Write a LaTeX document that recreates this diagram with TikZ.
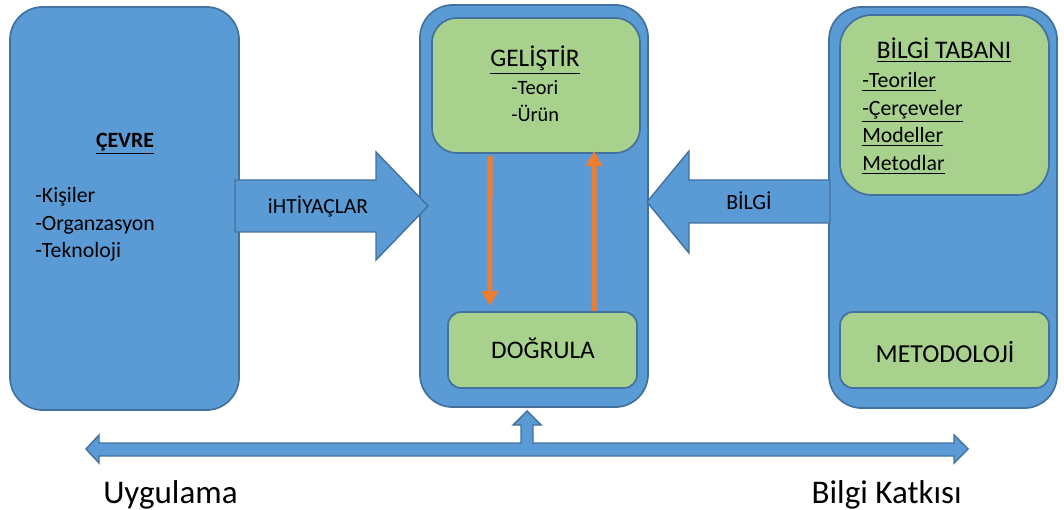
\documentclass[tikz,border=0pt]{standalone}
\usepackage{fontspec}
\setmainfont{Carlito}
\usetikzlibrary{arrows.meta}
\definecolor{boxblue}{HTML}{5B9BD5}
\definecolor{edgeblue}{HTML}{41719C}
\definecolor{boxgreen}{HTML}{A9D18E}
\definecolor{flowcol}{HTML}{ED7D31}
\newcommand{\fs}[1]{\fontsize{#1}{#1}\selectfont}

\begin{document}
\begin{tikzpicture}
[x=0.025cm,y=-0.025cm,
outer box/.style={rectangle, draw=edgeblue, fill=boxblue, line width=1.2pt},
inner box/.style={rectangle, draw=edgeblue, fill=boxgreen, line width=1.2pt},
block arrow/.style={draw=edgeblue, fill=boxblue, line width=1pt, line join=miter},
flow/.style={flowcol, line width=3.6pt, -{Triangle[width=11.4pt,length=10.7pt]}},
txt/.style={inner sep=0pt, anchor=base},
item/.style={inner sep=0pt, anchor=base west}]
\useasboundingbox (0,0) rectangle (1064,510);
    % main blocks
    \node[outer box, minimum width=5.725cm, minimum height=10.075cm, rounded corners=0.82cm] (cevre) at (124.5,208.5) {};
    \node[outer box, minimum width=5.7cm, minimum height=10.05cm, rounded corners=0.82cm] (tasarim) at (534,206) {};
    \node[outer box, minimum width=5.7cm, minimum height=10.025cm, rounded corners=0.82cm] (bilgi) at (943,207.5) {};
    \node[inner box, minimum width=5.2cm, minimum height=3.375cm, rounded corners=0.62cm] (gelistir) at (536,85.5) {};
    \node[inner box, minimum width=4.725cm, minimum height=1.9cm, rounded corners=0.33cm] (dogrula) at (542.5,350) {};
    \node[inner box, minimum width=5.225cm, minimum height=4.5cm, rounded corners=0.8cm] (tabani) at (944.5,105) {};
    \node[inner box, minimum width=5.225cm, minimum height=1.9cm, rounded corners=0.33cm] (metodoloji) at (944.5,350) {};
    % block arrows
    \draw[block arrow] (235,180) -- (376,180) -- (376,152) -- (428,206) -- (376,260) -- (376,232) -- (235,232) -- cycle;
    \draw[block arrow] (830,180) -- (689,180) -- (689,151) -- (647,202) -- (689,253) -- (689,223) -- (830,223) -- cycle;
    \draw[block arrow] (86,449) -- (99,435) -- (99,443) -- (521,443) -- (521,425) -- (513,425) -- (527,411) -- (541,425)
        -- (533,425) -- (533,443) -- (954,443) -- (954,435) -- (968,449) -- (954,463) -- (954,456) -- (99,456) -- (99,463) -- cycle;
    % cycle inside the middle block
    \draw[flow, shorten <=1.4pt, shorten >=3.6pt] ([xshift=-1.15cm]gelistir.south) -- ([xshift=-1.315cm]dogrula.north);
    \draw[flow, shorten >=-2pt] ([xshift=1.29cm]dogrula.north) -- ([xshift=1.45cm]gelistir.south);
    % texts
    \node[txt, font=\fs{15.5}\bfseries] (cevrebaslik) at (125,148) {\underline{ÇEVRE}};
    \node[item, font=\fs{15.5}] (kisiler) at (35,203) {-Kişiler};
    \node[item, font=\fs{15.5}] (organ) at (35,230.5) {-Organzasyon};
    \node[item, font=\fs{15.5}] (teknoloji) at (35,258) {-Teknoloji};
    \node[txt, font=\fs{18}] (gelistirbaslik) at (535,67) {\underline{GELİŞTİR}};
    \node[item, font=\fs{14.5}] (teori) at (511,95) {-Teori};
    \node[item, font=\fs{14.5}] (urun) at (511,122) {-Ürün};
    \node[txt, font=\fs{18}] (dogrulabaslik) at (543,358) {DOĞRULA};
    \node[txt, font=\fs{15.3}] (ihtiyac) at (318,214) {iHTİYAÇLAR};
    \node[txt, font=\fs{15.5}] (bilgiok) at (749,210) {BİLGİ};
    \node[txt, font=\fs{18}] (tabanibaslik) at (944,59) {\underline{BİLGİ TABANI}};
    \node[item, font=\fs{15.5}] (teoriler) at (862,88) {\underline{-Teoriler}};
    \node[item, font=\fs{15.5}] (cerceve) at (862,116) {\underline{-Çerçeveler}};
    \node[item, font=\fs{15.5}] (modeller) at (862,143) {\underline{Modeller}};
    \node[item, font=\fs{15.5}] (metodlar) at (862,171) {\underline{Metodlar}};
    \node[txt, font=\fs{18.4}] (metodolojibaslik) at (945,362) {METODOLOJİ};
    \node[item, font=\fs{23.5}] (uygulama) at (103,503) {Uygulama};
    \node[inner sep=0pt, anchor=base east, font=\fs{23.5}] (katki) at (962,503) {Bilgi Katkısı};
\end{tikzpicture}
\end{document}
